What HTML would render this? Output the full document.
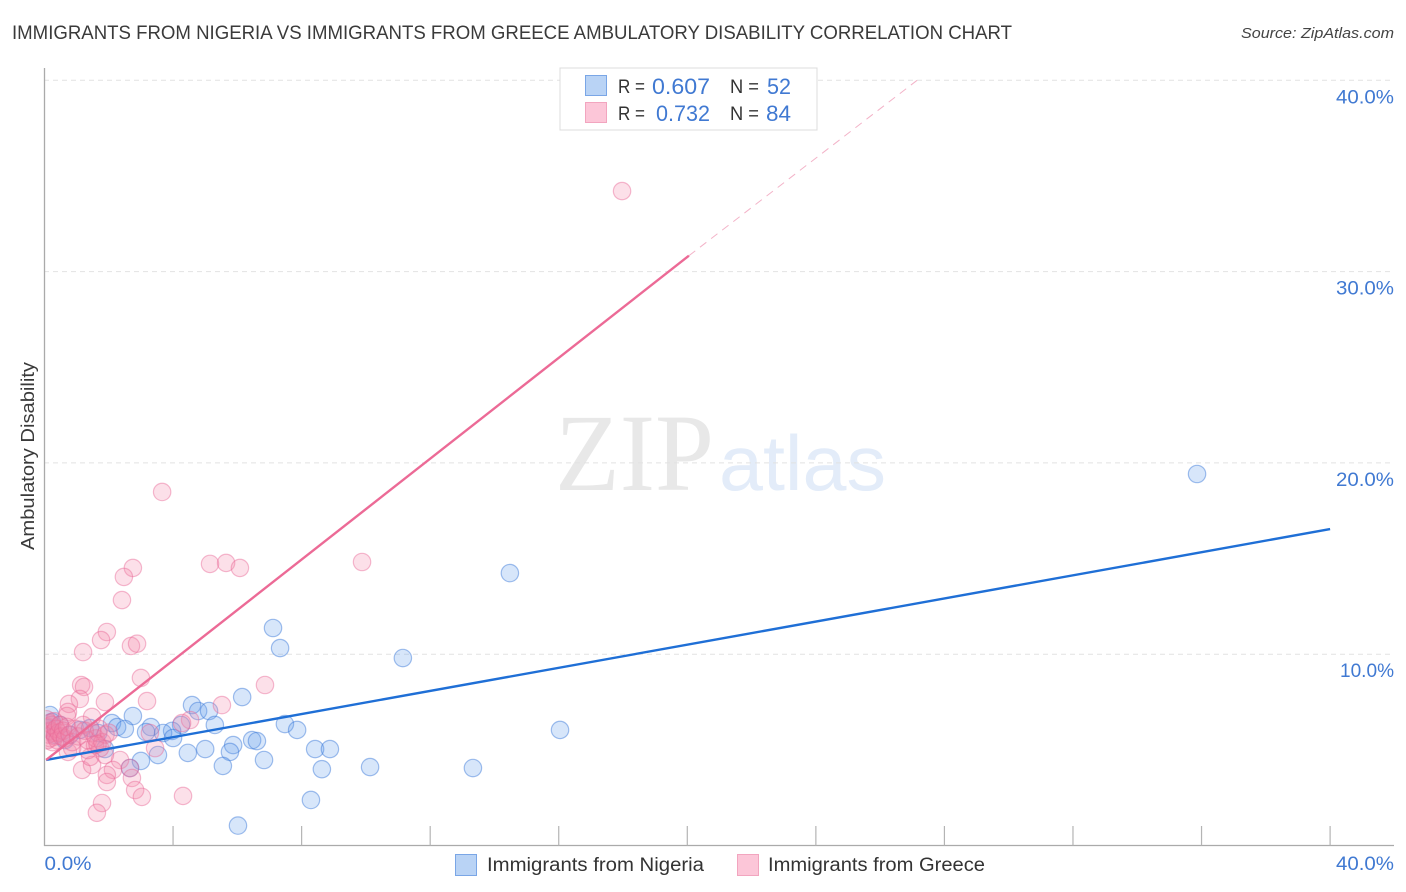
<!DOCTYPE html>
<html lang="en">
<head>
<meta charset="utf-8">
<title>Immigrants from Nigeria vs Immigrants from Greece Ambulatory Disability Correlation Chart</title>
<style>
html,body{margin:0;padding:0;background:#fff;}
svg{display:block;font-family:"Liberation Sans",sans-serif;}
</style>
</head>
<body>
<svg id="chart" width="1406" height="892" viewBox="0 0 1406 892" xmlns="http://www.w3.org/2000/svg">
  <defs>
    <clipPath id="plot-clip"><rect x="45.5" y="60" width="1360" height="785"/></clipPath>
  </defs>
  <rect x="0" y="0" width="1406" height="892" fill="#fff"/>
  <text x="12" y="39" font-size="19" fill="#3a3a3a" textLength="1000" lengthAdjust="spacingAndGlyphs">IMMIGRANTS FROM NIGERIA VS IMMIGRANTS FROM GREECE AMBULATORY DISABILITY CORRELATION CHART</text>
  <text x="1394" y="38" font-size="15" font-style="italic" fill="#444" text-anchor="end" textLength="153" lengthAdjust="spacingAndGlyphs">Source: ZipAtlas.com</text>
  <text transform="translate(34,456) rotate(-90)" font-size="18.5" fill="#3a3a3a" text-anchor="middle" textLength="188" lengthAdjust="spacingAndGlyphs">Ambulatory Disability</text>
  <text x="555" y="490" font-family="'Liberation Serif',serif" font-size="110" fill="#e8e8e8" textLength="159" lengthAdjust="spacingAndGlyphs">ZIP</text>
  <text x="719" y="490" font-size="78" fill="#e3ecf9" textLength="167" lengthAdjust="spacingAndGlyphs">atlas</text>
  <g id="grid"></g>
  <g id="axes"></g>
  <g id="points" clip-path="url(#plot-clip)"></g>
  <g id="lines"></g>
  <g id="labels"></g>

  <g>
    <rect x="560" y="68" width="257" height="62" fill="#fff" stroke="#dcdcdc" stroke-width="1"/>
    <rect x="585.5" y="75.5" width="21" height="20" fill="#b9d3f5" stroke="#7aa6e6"/>
    <rect x="585.5" y="102.5" width="21" height="20" fill="#fcc6d8" stroke="#f2a5bf"/>
    <text x="618" y="93" font-size="19" fill="#333" textLength="27" lengthAdjust="spacingAndGlyphs">R =</text>
    <text x="652" y="94" font-size="22" fill="#4079d2" textLength="58" lengthAdjust="spacingAndGlyphs">0.607</text>
    <text x="730" y="93" font-size="19" fill="#333" textLength="29" lengthAdjust="spacingAndGlyphs">N =</text>
    <text x="767" y="94" font-size="22" fill="#4079d2" textLength="24" lengthAdjust="spacingAndGlyphs">52</text>
    <text x="618" y="120" font-size="19" fill="#333" textLength="27" lengthAdjust="spacingAndGlyphs">R =</text>
    <text x="656" y="121" font-size="22" fill="#4079d2" textLength="54" lengthAdjust="spacingAndGlyphs">0.732</text>
    <text x="730" y="120" font-size="19" fill="#333" textLength="29" lengthAdjust="spacingAndGlyphs">N =</text>
    <text x="766" y="121" font-size="22" fill="#4079d2" textLength="25" lengthAdjust="spacingAndGlyphs">84</text>
  </g>

  <g>
    <rect x="455.5" y="854.5" width="21" height="21" fill="#b9d3f5" stroke="#7aa6e6"/>
    <text x="487" y="871" font-size="19" fill="#333" textLength="217" lengthAdjust="spacingAndGlyphs">Immigrants from Nigeria</text>
    <rect x="737.5" y="854.5" width="21" height="21" fill="#fcc6d8" stroke="#f2a5bf"/>
    <text x="768" y="871" font-size="19" fill="#333" textLength="217" lengthAdjust="spacingAndGlyphs">Immigrants from Greece</text>
  </g>
</svg>
<script>
const xTickValues = [0, 4, 8, 12, 16, 20, 24, 28, 32, 36, 40];
const yGridValues = [10, 20, 30, 40];
const yTickLabels = ["10.0%", "20.0%", "30.0%", "40.0%"];
const xEndLabels = ["0.0%", "40.0%"];
const xEndValues = [0, 40];

const nigeriaX = [35.86,14.48,7.11,7.33,11.15,6.15,4.59,4.78,5.12,5.30,4.25,2.75,7.48,16.04,7.86,3.31,2.10,2.26,2.50,1.67,3.97,3.69,3.16,4.00,6.46,6.61,5.87,5.77,5.00,1.88,8.42,8.88,8.63,10.13,13.33,8.29,6.02,6.83,5.55,3.53,3.00,2.66,4.46,0.17,0.23,0.48,0.08,0.79,1.10,1.42,0.33,0.64];
const nigeriaY = [19.42,14.24,11.37,10.32,9.80,7.76,7.34,7.03,7.03,6.30,6.30,6.77,6.35,6.04,6.04,6.19,6.40,6.19,6.09,5.88,5.99,5.88,5.93,5.62,5.51,5.46,5.25,4.89,5.04,5.04,5.04,5.04,3.99,4.10,4.05,2.38,1.04,4.47,4.16,4.73,4.42,4.05,4.84,6.82,6.46,6.30,6.14,5.78,6.04,6.14,5.78,5.51];

const greeceX = [17.97,3.66,5.15,5.65,6.08,9.88,2.75,2.47,2.41,1.94,1.76,2.69,2.88,1.20,3.00,6.86,1.14,1.23,1.10,3.19,1.88,5.52,0.76,0.73,0.70,1.48,4.53,4.28,3.28,3.44,2.35,2.66,2.13,1.17,1.48,1.94,1.94,2.72,2.82,3.03,4.31,1.79,1.63,1.42,1.88,1.73,1.35,0.73,0.86,1.57,0.06,0.08,0.10,0.12,0.15,0.18,0.20,0.22,0.25,0.28,0.30,0.33,0.36,0.40,0.44,0.48,0.53,0.58,0.64,0.70,0.78,0.86,0.95,1.05,1.20,1.35,1.50,1.60,1.70,1.80,1.90,1.25,1.65,2.00];
const greeceY = [34.21,18.48,14.72,14.77,14.51,14.82,14.51,14.04,12.83,11.16,10.74,10.43,10.55,10.11,8.76,8.39,8.39,8.29,7.66,7.55,7.50,7.34,7.40,6.98,6.77,6.72,6.56,6.40,5.88,5.09,4.47,4.05,3.95,3.95,4.21,3.69,3.32,3.53,2.90,2.54,2.59,2.22,1.71,4.63,4.73,5.09,4.99,4.89,5.09,5.25,6.60,5.50,6.20,5.80,6.40,5.60,6.00,6.30,5.40,5.90,6.50,5.70,6.10,5.50,5.90,6.30,5.70,6.00,5.60,6.20,5.80,5.40,6.10,5.70,6.30,5.50,5.90,5.60,6.10,5.40,5.80,6.00,5.30,5.90];

const nigeriaTrendX = [0.05, 40];
const nigeriaTrendY = [4.47, 16.54];
const greeceTrendX = [0.05, 20.05];
const greeceTrendY = [4.47, 30.83];
const greeceExtensionX = [20.05, 27.15];
const greeceExtensionY = [30.83, 40];

const NS = "http://www.w3.org/2000/svg";
function xScale(v) { return 44.5 + v * 32.14; }
function yScale(v) { return 845.5 - v * 19.13; }
function make(tag, parent, attrs) {
  const el = document.createElementNS(NS, tag);
  for (const k in attrs) el.setAttribute(k, attrs[k]);
  parent.appendChild(el);
  return el;
}

const gridG = document.getElementById("grid");
yGridValues.forEach(function (v) {
  const g = make("line", gridG, {x1: 44, x2: 1394, y1: yScale(v), y2: yScale(v), stroke: "#e2e2e2", "stroke-width": 1, "stroke-dasharray": "5 4"});
  
  
});

const axesG = document.getElementById("axes");
const yAxis = make("line", axesG, {x1: 44.5, x2: 44.5, y1: 68, y2: 846, stroke: "#aaa", "stroke-width": 1.3});


const xAxis = make("line", axesG, {x1: 44, x2: 1394, y1: 845.5, y2: 845.5, stroke: "#aaa", "stroke-width": 1.3});


xTickValues.slice(1).forEach(function (v) {
  const t = make("line", axesG, {x1: xScale(v), x2: xScale(v), y1: 826, y2: 845.5, stroke: "#b4b4b4", "stroke-width": 1.2});
  
  
});

const pointsG = document.getElementById("points");
nigeriaX.forEach(function (x, i) {
  const c = make("circle", pointsG, {cx: xScale(x), cy: yScale(nigeriaY[i]), r: 8.7, fill: "rgba(100,160,235,0.26)", stroke: "rgba(50,115,215,0.45)", "stroke-width": 1.2});
  
  
});
greeceX.forEach(function (x, i) {
  const c = make("circle", pointsG, {cx: xScale(x), cy: yScale(greeceY[i]), r: 8.7, fill: "rgba(245,135,170,0.26)", stroke: "rgba(232,105,150,0.45)", "stroke-width": 1.2});
  
  
});

const linesG = document.getElementById("lines");
const nLine = make("line", linesG, {x1: xScale(nigeriaTrendX[0]), y1: yScale(nigeriaTrendY[0]), x2: xScale(nigeriaTrendX[1]), y2: yScale(nigeriaTrendY[1]), stroke: "#1f6fd6", "stroke-width": 2.4});


const gLine = make("line", linesG, {x1: xScale(greeceTrendX[0]), y1: yScale(greeceTrendY[0]), x2: xScale(greeceTrendX[1]), y2: yScale(greeceTrendY[1]), stroke: "#ec6a96", "stroke-width": 2.4});


const gExt = make("line", linesG, {x1: xScale(greeceExtensionX[0]), y1: yScale(greeceExtensionY[0]), x2: xScale(greeceExtensionX[1]), y2: yScale(greeceExtensionY[1]), stroke: "#f3b3c8", "stroke-width": 1, "stroke-dasharray": "8 6"});



const labelsG = document.getElementById("labels");
yGridValues.forEach(function (v, i) {
  const t = make("text", labelsG, {x: 1394, y: yScale(v) + 23, "font-size": 19.5, fill: "#4079d2", "text-anchor": "end", textLength: i === 0 ? 54 : 58, lengthAdjust: "spacingAndGlyphs"});
  t.textContent = yTickLabels[i];
  
  
});
xEndValues.forEach(function (v, i) {
  const t = make("text", labelsG, i === 0
    ? {x: xScale(v), y: 870, "font-size": 19.5, fill: "#4079d2", textLength: 47, lengthAdjust: "spacingAndGlyphs"}
    : {x: 1394, y: 870, "font-size": 19.5, fill: "#4079d2", "text-anchor": "end", textLength: 58, lengthAdjust: "spacingAndGlyphs"});
  t.textContent = xEndLabels[i];
  
  
});
</script>
</body>
</html>
